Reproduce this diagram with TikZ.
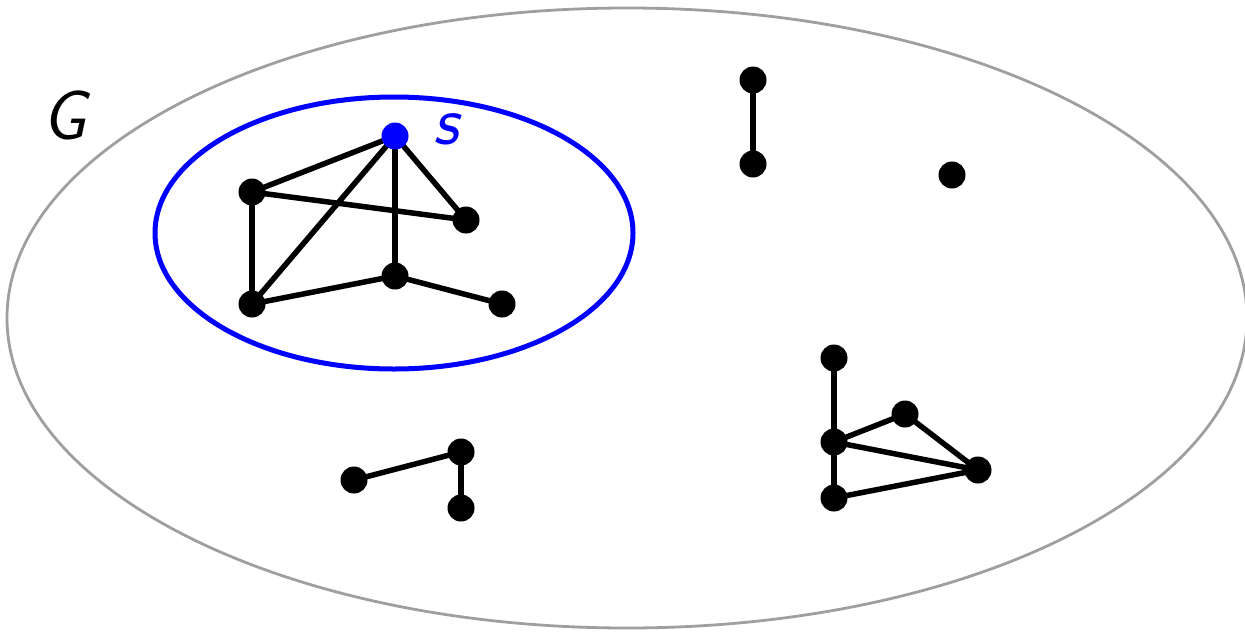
\documentclass[tikz,border=0pt]{standalone}
\usetikzlibrary{backgrounds}
\begin{document}
\begin{tikzpicture}[x=1pt,y=-1pt,
  vtx/.style={circle,fill=black,inner sep=0pt,minimum size=27pt},
  svtx/.style={vtx,fill=blue},
  edge/.style={line width=5.5pt},
  lbl/.style={font=\fontsize{70}{70}\selectfont\sffamily\itshape,inner sep=0pt}]
\useasboundingbox (0,0) rectangle (1245,632);
\node[lbl] (G) at (64,115) {G};
\node[lbl,blue] (sl) at (446,129) {s};
% main component
\node[svtx] (s) at (395,136) {};
\node[vtx] (a) at (252,192) {};
\node[vtx] (b) at (466,220) {};
\node[vtx] (c) at (252,304) {};
\node[vtx] (d) at (395,276) {};
\node[vtx] (e) at (502,304) {};
% other components
\node[vtx] (t1) at (753,80) {};
\node[vtx] (t2) at (753,164) {};
\node[vtx] (iso) at (952,175) {};
\node[vtx] (l1) at (354,480) {};
\node[vtx] (l2) at (461,452) {};
\node[vtx] (l3) at (461,508) {};
\node[vtx] (r1) at (834,358) {};
\node[vtx] (r2) at (834,442) {};
\node[vtx] (r3) at (905,414) {};
\node[vtx] (r4) at (978,470) {};
\node[vtx] (r5) at (834,498) {};
\begin{pgfonlayer}{background}
\begin{scope}
\clip (0,0) rectangle (1245,632);
\draw[gray!75,line width=2.8pt] (627,318) ellipse [x radius=620, y radius=310];
\end{scope}
\draw[blue,line width=5pt] (394,233) ellipse [x radius=239, y radius=136];
\foreach \u/\v in {s/a,s/b,s/d,s/c,a/b,a/c,c/d,d/e,t1/t2,l1/l2,l2/l3,r1/r2,r2/r5,r2/r3,r2/r4,r3/r4,r5/r4}
  \draw[edge] (\u.center) -- (\v.center);
\end{pgfonlayer}
\end{tikzpicture}
\end{document}
